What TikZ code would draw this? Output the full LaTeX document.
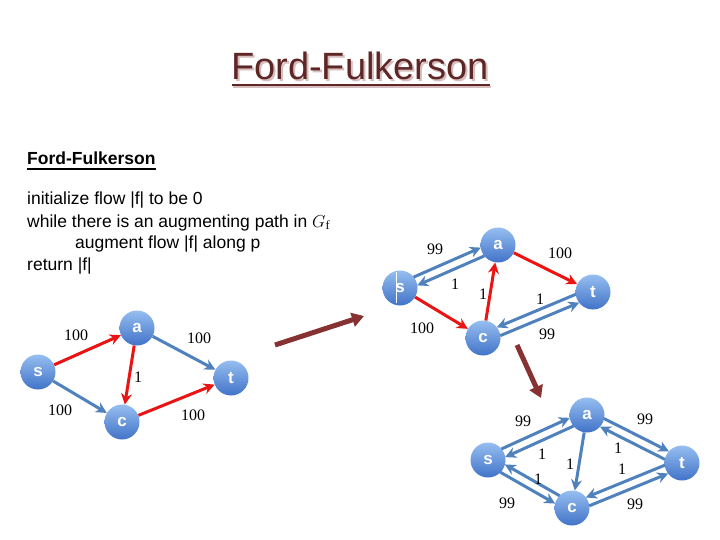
\documentclass[tikz,border=0pt]{standalone}
\usepackage{fontspec}
\setmainfont{Liberation Serif}
\setsansfont{Liberation Sans}
\usetikzlibrary{calc,arrows.meta}
\definecolor{eblue}{RGB}{79,129,189}
\definecolor{ered}{RGB}{235,20,20}
\definecolor{brn}{RGB}{135,50,50}
\definecolor{ttl}{RGB}{95,38,38}
\definecolor{ttlsh}{RGB}{215,190,190}
\definecolor{ntop}{RGB}{150,190,240}
\definecolor{nbot}{RGB}{65,115,200}
\newcommand\pedge[5]{\draw[#5] ($(#1)!4.5pt!#3:(#2)$) -- ($(#2)!4.5pt!#4:(#1)$);}
\begin{document}
\begin{tikzpicture}[x=1pt,y=-1pt,
  vtx/.style={circle,minimum size=35pt,inner sep=0pt,top color=ntop,bottom color=nbot,
    text=white,font=\sffamily\bfseries\fontsize{17}{17}\selectfont},
  lbl/.style={inner sep=0pt,font=\fontsize{16}{16}\selectfont},
  barrow/.style={draw=eblue,line width=3pt,-{Stealth[length=11pt,width=11pt]}},
  rarrow/.style={draw=ered,line width=3pt,-{Stealth[length=11pt,width=11pt]}},
  pair/.style={shorten <=16.8pt,shorten >=16.8pt},
  bigarrow/.style={draw=brn,line width=5pt,-{Triangle[length=12pt,width=14pt]}},
  code/.style={anchor=base west,inner sep=0pt,font=\sffamily\fontsize{17.5}{17.5}\selectfont}]
\useasboundingbox (0,0) rectangle (720,540);
% title
\node[anchor=base,inner sep=0pt,text=ttlsh,font=\sffamily\fontsize{38}{38}\selectfont] at (362,82) {Ford-Fulkerson};
\node[anchor=base,inner sep=0pt,text=ttl,font=\sffamily\fontsize{38}{38}\selectfont] (title) at (360,80) {Ford-Fulkerson};
\draw[ttlsh,line width=2.5pt] (233,87) -- (491,87);
\draw[ttl,line width=2.5pt] (232,85) -- (490,85);
% subtitle and code
\node[anchor=base west,inner sep=0pt,font=\sffamily\bfseries\fontsize{17.5}{17.5}\selectfont] (sub) at (27,165) {Ford-Fulkerson};
\draw[line width=1.2pt] (27,169) -- (156,169);
\node[code] (l1) at (27,205) {initialize flow |f| to be 0};
\node[code] (l2) at (27,227) {while there is an augmenting path in $G_{\mathrm{f}}$};
\node[code] (l3) at (75,248) {augment flow |f| along p};
\node[code] (l4) at (27,270) {return |f|};
% graph 1
\node[vtx] (s1) at (38,372) {s};
\node[vtx] (a1) at (137,328) {a};
\node[vtx] (t1) at (231,378) {t};
\node[vtx] (c1) at (122,422) {c};
\draw[rarrow] (s1) -- (a1);
\draw[barrow] (a1) -- (t1);
\draw[rarrow] (a1) -- (c1);
\draw[barrow] (s1) -- (c1);
\draw[rarrow] (c1) -- (t1);
\node[lbl] at (76,335) {100};
\node[lbl] at (199,338) {100};
\node[lbl] at (138,377) {1};
\node[lbl] at (60,410) {100};
\node[lbl] at (193,415) {100};
% graph 2
\node[vtx] (s2) at (400,288) {s};
\node[vtx] (a2) at (498,245) {a};
\node[vtx] (t2) at (593,292) {t};
\node[vtx] (c2) at (483,338) {c};
\draw[white,line width=0.8pt] (396,272) -- (396,303);
\pedge{s2}{a2}{90}{-90}{barrow,pair}
\pedge{a2}{s2}{90}{-90}{barrow,pair}
\draw[rarrow] (a2) -- (t2);
\draw[rarrow] (c2) -- (a2);
\draw[rarrow] (s2) -- (c2);
\pedge{t2}{c2}{-90}{90}{barrow,pair}
\pedge{c2}{t2}{-90}{90}{barrow,pair}
\node[lbl] at (435,249) {99};
\node[lbl] at (455,284) {1};
\node[lbl] at (560,253) {100};
\node[lbl] at (483,294) {1};
\node[lbl] at (540,299) {1};
\node[lbl] at (422,328) {100};
\node[lbl] at (547,334) {99};
% graph 3
\node[vtx] (s3) at (488,460) {s};
\node[vtx] (a3) at (587,415) {a};
\node[vtx] (t3) at (682,463) {t};
\node[vtx] (c3) at (572,508) {c};
\pedge{s3}{a3}{90}{-90}{barrow,pair}
\pedge{a3}{s3}{90}{-90}{barrow,pair}
\pedge{a3}{t3}{90}{-90}{barrow,pair}
\pedge{t3}{a3}{90}{-90}{barrow,pair}
\draw[barrow] (a3) -- (c3);
\pedge{s3}{c3}{-90}{90}{barrow,pair}
\pedge{c3}{s3}{-90}{90}{barrow,pair}
\pedge{t3}{c3}{-90}{90}{barrow,pair}
\pedge{c3}{t3}{-90}{90}{barrow,pair}
\node[lbl] at (523,421) {99};
\node[lbl] at (542,454) {1};
\node[lbl] at (645,419) {99};
\node[lbl] at (618,448) {1};
\node[lbl] at (570,464) {1};
\node[lbl] at (622,469) {1};
\node[lbl] at (538,479) {1};
\node[lbl] at (507,503) {99};
\node[lbl] at (635,504) {99};
% big arrows
\coordinate (b1s) at (275,345);
\coordinate (b1e) at (364,316);
\coordinate (b2s) at (517,345);
\coordinate (b2e) at (541,398);
\draw[bigarrow] (b1s) -- (b1e);
\draw[bigarrow] (b2s) -- (b2e);
\end{tikzpicture}
\end{document}
